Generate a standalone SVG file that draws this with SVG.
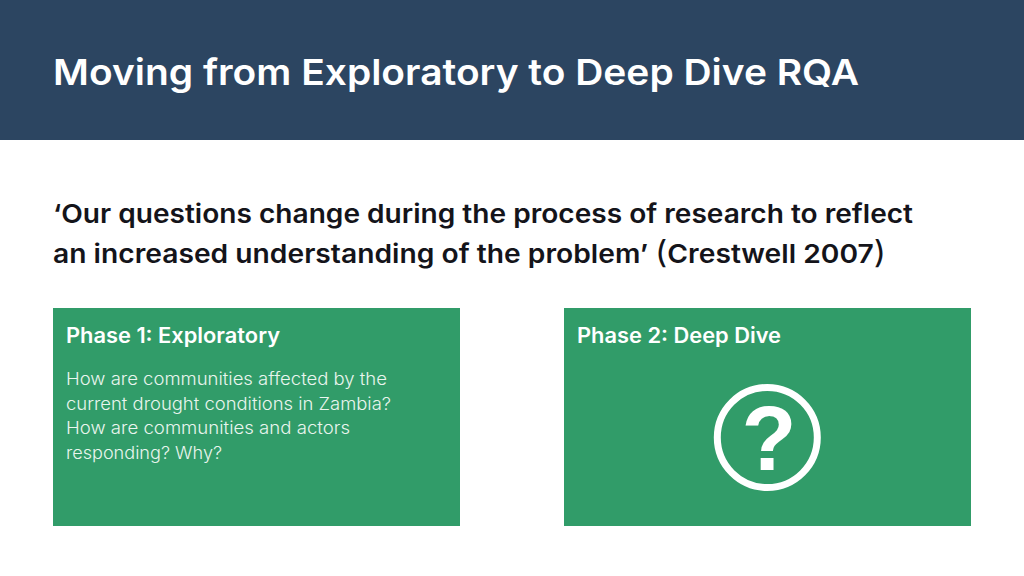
<svg xmlns="http://www.w3.org/2000/svg" width="1024" height="576" viewBox="0 0 1024 576">
<style>
text{font-family:"Inter","Noto Sans","Liberation Sans",sans-serif}
.panel{fill:#319c69}
.title{font-size:36px;font-weight:600;fill:#fff}
.quote{font-size:26px;font-weight:600;fill:#14141a}
.paren{font-size:31px;font-weight:400}
.head{font-size:21px;font-weight:600;fill:#fff}
.body{font-size:17px;font-weight:300;fill:#e9f5ee}
</style>
<rect width="1024" height="576" fill="#fff"/>
<g id="header">
<rect width="1024" height="140" fill="#2c4561"/>
<text class="title" x="53" y="85" textLength="806" lengthAdjust="spacingAndGlyphs">Moving from Exploratory to Deep Dive RQA</text>
</g>
<g id="quote">
<text class="quote" x="53" y="223" textLength="860" lengthAdjust="spacingAndGlyphs">‘Our questions change during the process of research to reflect</text>
<text class="quote" x="53" y="263" textLength="833" lengthAdjust="spacingAndGlyphs">an increased understanding of the problem’ <tspan class="paren">(</tspan>Crestwell 2007<tspan class="paren">)</tspan></text>
</g>
<g id="phase1">
<rect class="panel" x="53" y="308" width="407" height="218"/>
<text class="head" x="66" y="343" textLength="214" lengthAdjust="spacingAndGlyphs">Phase 1: Exploratory</text>
<text class="body" x="66" y="385" textLength="321" lengthAdjust="spacingAndGlyphs">How are communities affected by the</text>
<text class="body" x="66" y="409.500" textLength="325" lengthAdjust="spacingAndGlyphs">current drought conditions in Zambia?</text>
<text class="body" x="66" y="434" textLength="284" lengthAdjust="spacingAndGlyphs">How are communities and actors</text>
<text class="body" x="66" y="459" textLength="156" lengthAdjust="spacingAndGlyphs">responding? Why?</text>
</g>
<g id="phase2">
<rect class="panel" x="564" y="308" width="407" height="218"/>
<text class="head" x="577" y="343" textLength="204" lengthAdjust="spacingAndGlyphs">Phase 2: Deep Dive</text>
<circle cx="767.300" cy="437.500" r="50" fill="none" stroke="#fff" stroke-width="7"/>
<text x="769" y="469.500" text-anchor="middle" font-size="90" font-weight="700" fill="#fff" style="font-family:'Liberation Sans',sans-serif">?</text>
</g>
</svg>
